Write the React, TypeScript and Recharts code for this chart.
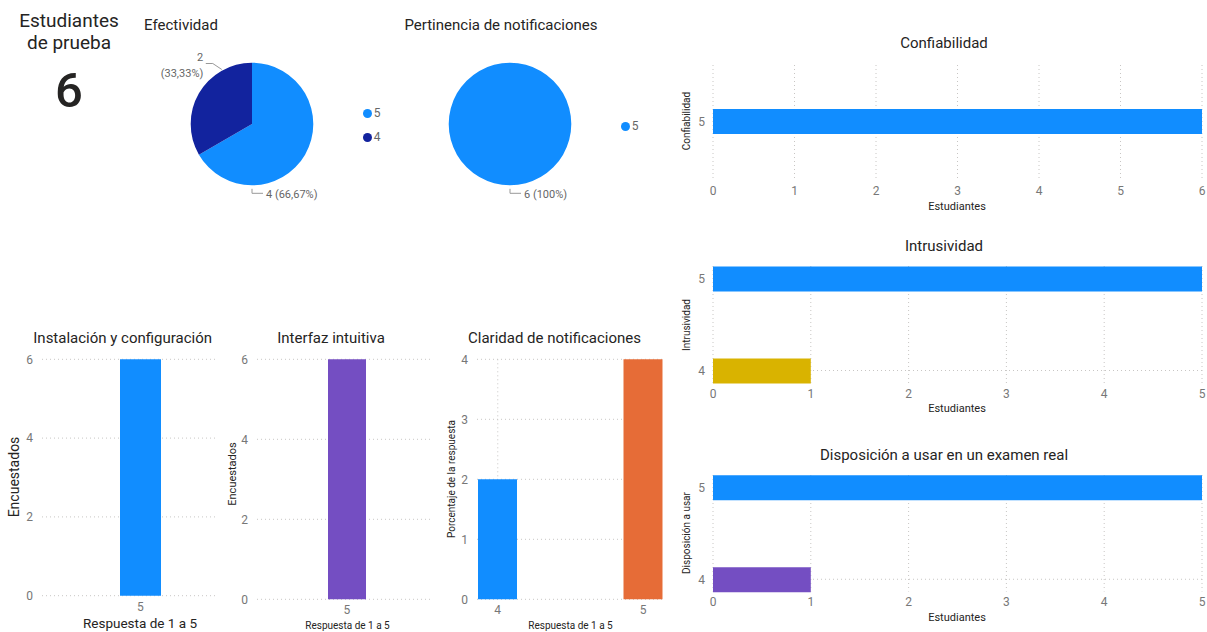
import React from "react";
import { BarChart, Bar, Cell, XAxis, YAxis, CartesianGrid, PieChart, Pie } from "recharts";

const FONT = "Roboto, 'Noto Sans', sans-serif";
const BLUE = "#118DFF";
const DARK_BLUE = "#12239E";
const GOLD = "#D9B300";
const PURPLE = "#744EC2";
const ORANGE = "#E66C37";
const GRID = "#C8C6C4";
const TICK = "#777777";
const INK = "#252423";

// KPI
const totalEstudiantes = 6;

// pies
const efectividadCats = ["5", "4"];
const efectividadVals = [4, 2];
const efectividadColors = [BLUE, DARK_BLUE];

const pertinenciaCats = ["5"];
const pertinenciaVals = [6];
const pertinenciaColors = [BLUE];

// horizontal bars (right column)
const confiabilidadCats = ["5"];
const confiabilidadVals = [6];
const confiabilidadColors = [BLUE];
const confiabilidadTicks = [0, 1, 2, 3, 4, 5, 6];

const intrusividadCats = ["5", "4"];
const intrusividadVals = [5, 1];
const intrusividadColors = [BLUE, GOLD];
const intrusividadTicks = [0, 1, 2, 3, 4, 5];

const disposicionCats = ["5", "4"];
const disposicionVals = [5, 1];
const disposicionColors = [BLUE, PURPLE];
const disposicionTicks = [0, 1, 2, 3, 4, 5];

// column charts (bottom left)
const instalacionCats = ["5"];
const instalacionVals = [6];
const instalacionColors = [BLUE];
const instalacionTicks = [0, 2, 4, 6];

const interfazCats = ["5"];
const interfazVals = [6];
const interfazColors = [PURPLE];
const interfazTicks = [0, 2, 4, 6];

const claridadCats = ["4", "5"];
const claridadVals = [2, 4];
const claridadColors = [BLUE, ORANGE];
const claridadTicks = [0, 1, 2, 3, 4];

function Txt({ x, y, size, children, color = INK, rotate = false, weight = 400 }: any) {
  return (
    <div
      style={{
        position: "absolute",
        left: x,
        top: y,
        transform: `translate(-50%, -50%)${rotate ? " rotate(-90deg)" : ""}`,
        fontSize: size,
        fontWeight: weight,
        lineHeight: 1,
        whiteSpace: "nowrap",
        color,
      }}
    >
      {children}
    </div>
  );
}

function fmtPct(p: number) {
  return (p * 100).toFixed(2).replace(".", ",").replace(/,00$/, "") + "%";
}

// leader-line labels, power bi style
function makePieLabel(angles: number[]) {
  return (p: any) => {
    const { cx, cy, outerRadius, index, value, percent } = p;
    const a = (angles[index] * Math.PI) / 180;
    const pct = fmtPct(percent);
    if (Math.sin(a) < 0) {
      const r = outerRadius + 3.5;
      const x0 = cx + r * Math.cos(a);
      const y0 = cy - r * Math.sin(a);
      const y1 = y0 + 4.5;
      return (
        <g>
          <polyline points={`${x0},${y0} ${x0},${y1} ${x0 + 11},${y1}`} fill="none" stroke="#999" />
          <text x={x0 + 14} y={y1 + 1.5} fontSize={11} fill="#666" dominantBaseline="central">
            {`${value} (${pct})`}
          </text>
        </g>
      );
    }
    const r = outerRadius + 1;
    const x0 = cx + r * Math.cos(a);
    const y0 = cy - r * Math.sin(a);
    const x1 = x0 - 9;
    const y1 = y0 - 6;
    const x2 = x1 - 7;
    return (
      <g>
        <polyline points={`${x0},${y0} ${x1},${y1} ${x2},${y1}`} fill="none" stroke="#999" />
        <text x={x2 - 2.5} y={y1 - 6} fontSize={11} fill="#666" textAnchor="end" dominantBaseline="central">
          {value}
        </text>
        <text x={x2 - 2.5} y={y1 + 9.6} fontSize={11} fill="#666" textAnchor="end" dominantBaseline="central">
          {`(${pct})`}
        </text>
      </g>
    );
  };
}

function PieBlock({ left, cx, cy, cats, vals, colors, angles }: any) {
  const data = cats.map((c: string, i: number) => ({ name: c, value: vals[i] }));
  return (
    <div style={{ position: "absolute", left, top: 0 }}>
      <PieChart width={240} height={220} margin={{ top: 0, right: 0, bottom: 0, left: 0 }}>
        <Pie
          data={data}
          dataKey="value"
          nameKey="name"
          cx={cx}
          cy={cy}
          outerRadius={61.3}
          startAngle={90}
          endAngle={-270}
          stroke="none"
          labelLine={false}
          label={makePieLabel(angles)}
          isAnimationActive={false}
        >
          {data.map((_: any, i: number) => (
            <Cell key={`cell-${i}`} fill={colors[i]} />
          ))}
        </Pie>
      </PieChart>
    </div>
  );
}

function PieLegend({ x, y, cats, colors }: any) {
  return (
    <>
      {cats.map((c: string, i: number) => (
        <React.Fragment key={c}>
          <div
            style={{
              position: "absolute",
              left: x - 4.5,
              top: y + i * 24 - 4.5,
              width: 9,
              height: 9,
              borderRadius: "50%",
              background: colors[i],
            }}
          />
          <div
            style={{
              position: "absolute",
              left: x + 6,
              top: y + i * 24,
              transform: "translateY(-50%)",
              fontSize: 12,
              lineHeight: 1,
              color: "#666",
            }}
          >
            {c}
          </div>
        </React.Fragment>
      ))}
    </>
  );
}

function HBarChart({ top, plotH, pad, cats, vals, colors, ticks }: any) {
  const data = cats.map((c: string, i: number) => ({ cat: c, value: vals[i] }));
  return (
    <div style={{ position: "absolute", left: 680, top }}>
      <BarChart
        width={527}
        height={10 + plotH + 30}
        data={data}
        layout="vertical"
        margin={{ top: 10, right: 5, bottom: 0, left: 13 }}
      >
        <CartesianGrid stroke={GRID} strokeDasharray="1 3" syncWithTicks />
        <XAxis
          type="number"
          domain={[0, ticks[ticks.length - 1]]}
          ticks={ticks}
          interval={0}
          height={30}
          axisLine={false}
          tickLine={false}
          tickSize={0}
          tickMargin={6}
          tick={{ fontSize: 12, fill: TICK }}
        />
        <YAxis
          type="category"
          dataKey="cat"
          width={20}
          interval={0}
          padding={pad}
          axisLine={false}
          tickLine={false}
          tickSize={0}
          tickMargin={8}
          tick={{ fontSize: 12, fill: TICK }}
        />
        <Bar dataKey="value" barSize={25} isAnimationActive={false}>
          {data.map((_: any, i: number) => (
            <Cell key={`cell-${i}`} fill={colors[i]} />
          ))}
        </Bar>
      </BarChart>
    </div>
  );
}

function VBarChart({ left, width, margin, plotH, pad, barSize, xTickMargin, cats, vals, colors, ticks }: any) {
  const data = cats.map((c: string, i: number) => ({ cat: c, value: vals[i] }));
  return (
    <div style={{ position: "absolute", left, top: 349 }}>
      <BarChart width={width} height={margin.top + plotH + 20} data={data} margin={margin}>
        <CartesianGrid stroke={GRID} strokeDasharray="1 3" syncWithTicks />
        <XAxis
          dataKey="cat"
          height={20}
          interval={0}
          padding={pad}
          axisLine={false}
          tickLine={false}
          tickSize={0}
          tickMargin={xTickMargin}
          tick={{ fontSize: 12, fill: TICK }}
        />
        <YAxis
          type="number"
          domain={[0, ticks[ticks.length - 1]]}
          ticks={ticks}
          interval={0}
          width={30}
          axisLine={false}
          tickLine={false}
          tickSize={0}
          tickMargin={9}
          tick={{ fontSize: 12, fill: TICK }}
        />
        <Bar dataKey="value" barSize={barSize} isAnimationActive={false}>
          {data.map((_: any, i: number) => (
            <Cell key={`cell-${i}`} fill={colors[i]} />
          ))}
        </Bar>
      </BarChart>
    </div>
  );
}

export default function App() {
  return (
    <div
      style={{
        position: "absolute",
        left: 0,
        top: 0,
        width: 1207,
        height: 632,
        overflow: "hidden",
        background: "#fff",
        fontFamily: FONT,
      }}
    >
      {/* KPI card */}
      <Txt x={69} y={20.2} size={19}>Estudiantes</Txt>
      <Txt x={69} y={41.8} size={19}>de prueba</Txt>
      <Txt x={69} y={90} size={49} weight={500}>{totalEstudiantes}</Txt>

      {/* Efectividad */}
      <Txt x={181} y={24.9} size={15}>Efectividad</Txt>
      <PieBlock
        left={130}
        cx={122}
        cy={124}
        cats={efectividadCats}
        vals={efectividadVals}
        colors={efectividadColors}
        angles={[-90, 119]}
      />
      <PieLegend x={367.7} y={113.3} cats={efectividadCats} colors={efectividadColors} />

      {/* Pertinencia */}
      <Txt x={501} y={24.9} size={15}>Pertinencia de notificaciones</Txt>
      <PieBlock
        left={390}
        cx={120}
        cy={124}
        cats={pertinenciaCats}
        vals={pertinenciaVals}
        colors={pertinenciaColors}
        angles={[-90]}
      />
      <PieLegend x={625.7} y={126} cats={pertinenciaCats} colors={pertinenciaColors} />

      {/* Confiabilidad */}
      <Txt x={944} y={43} size={15}>Confiabilidad</Txt>
      <HBarChart
        top={55}
        plotH={115}
        pad={{ top: 0, bottom: 2 }}
        cats={confiabilidadCats}
        vals={confiabilidadVals}
        colors={confiabilidadColors}
        ticks={confiabilidadTicks}
      />
      <Txt x={687} y={121} size={10} rotate>Confiabilidad</Txt>
      <Txt x={957} y={206} size={11}>Estudiantes</Txt>

      {/* Intrusividad */}
      <Txt x={944} y={246} size={15}>Intrusividad</Txt>
      <HBarChart
        top={256}
        plotH={117}
        pad={{ top: -33.5, bottom: -33.5 }}
        cats={intrusividadCats}
        vals={intrusividadVals}
        colors={intrusividadColors}
        ticks={intrusividadTicks}
      />
      <Txt x={687} y={325} size={10} rotate>Intrusividad</Txt>
      <Txt x={957} y={408} size={11}>Estudiantes</Txt>

      {/* Disposición */}
      <Txt x={944} y={455} size={15}>Disposición a usar en un examen real</Txt>
      <HBarChart
        top={465}
        plotH={116.5}
        pad={{ top: -33.75, bottom: -33.75 }}
        cats={disposicionCats}
        vals={disposicionVals}
        colors={disposicionColors}
        ticks={disposicionTicks}
      />
      <Txt x={687} y={533} size={10} rotate>Disposición a usar</Txt>
      <Txt x={957} y={617} size={11}>Estudiantes</Txt>

      {/* Instalación */}
      <Txt x={122.7} y={337.5} size={15}>Instalación y configuración</Txt>
      <VBarChart
        left={0}
        width={230}
        margin={{ top: 10.3, right: 12, bottom: 0, left: 12 }}
        plotH={236.4}
        pad={{ left: 21, right: 0 }}
        barSize={41}
        xTickMargin={7}
        cats={instalacionCats}
        vals={instalacionVals}
        colors={instalacionColors}
        ticks={instalacionTicks}
      />
      <Txt x={14} y={477} size={14} rotate>Encuestados</Txt>
      <Txt x={140} y={624} size={13.5}>Respuesta de 1 a 5</Txt>

      {/* Interfaz */}
      <Txt x={331} y={338} size={15}>Interfaz intuitiva</Txt>
      <VBarChart
        left={220}
        width={230}
        margin={{ top: 10.3, right: 17, bottom: 0, left: 7 }}
        plotH={240}
        pad={{ left: 4, right: 0 }}
        barSize={38}
        xTickMargin={6}
        cats={interfazCats}
        vals={interfazVals}
        colors={interfazColors}
        ticks={interfazTicks}
      />
      <Txt x={232} y={474} size={11} rotate>Encuestados</Txt>
      <Txt x={347.5} y={626} size={10}>Respuesta de 1 a 5</Txt>

      {/* Claridad */}
      <Txt x={554.5} y={338} size={15}>Claridad de notificaciones</Txt>
      <VBarChart
        left={440}
        width={230}
        margin={{ top: 10.3, right: 7, bottom: 0, left: 7 }}
        plotH={240}
        pad={{ left: -52, right: -53 }}
        barSize={39}
        xTickMargin={6}
        cats={claridadCats}
        vals={claridadVals}
        colors={claridadColors}
        ticks={claridadTicks}
      />
      <Txt x={452} y={479} size={10} rotate>Porcentaje de la respuesta</Txt>
      <Txt x={570.5} y={626} size={10}>Respuesta de 1 a 5</Txt>
    </div>
  );
}
